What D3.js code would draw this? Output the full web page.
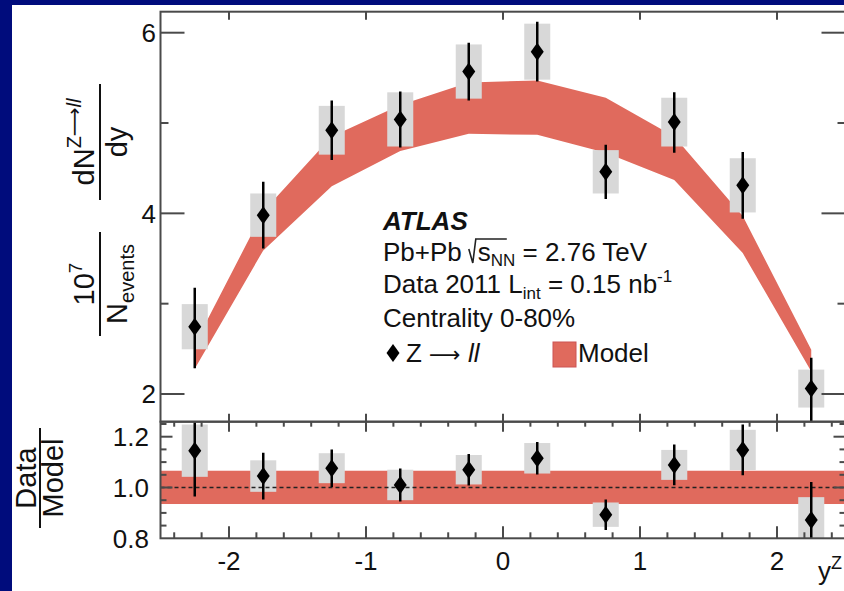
<!DOCTYPE html>
<html>
<head>
<meta charset="utf-8">
<script src="https://cdn.jsdelivr.net/npm/d3@7"></script>
<style>
  html, body { margin: 0; padding: 0; background: #000c7c; }
  svg { display: block; }
  text { font-family: "Liberation Sans", Arial, Helvetica, sans-serif; fill: #111; }
</style>
</head>
<body>
<svg id="chart" width="844" height="591"></svg>
<script>
// Z boson yield vs rapidity, Pb+Pb 2.76 TeV (centrality 0-80%)
const rapidityBins = [-2.25, -1.75, -1.25, -0.75, -0.25, 0.25, 0.75, 1.25, 1.75, 2.25];
const yieldValues  = [2.745, 3.98, 4.92, 5.04, 5.57, 5.79, 4.46, 5.01, 4.31, 2.06];
const yieldStatUp  = [0.43, 0.37, 0.33, 0.31, 0.32, 0.33, 0.30, 0.33, 0.37, 0.34];
const yieldStatDn  = [0.46, 0.37, 0.33, 0.31, 0.32, 0.33, 0.30, 0.34, 0.37, 0.40];
const yieldSyst    = [0.25, 0.24, 0.27, 0.30, 0.30, 0.31, 0.24, 0.27, 0.30, 0.21];
const modelUpper   = [2.55, 4.02, 4.85, 5.20, 5.45, 5.47, 5.28, 4.85, 3.97, 2.49];
const modelLower   = [2.28, 3.59, 4.30, 4.69, 4.88, 4.87, 4.67, 4.37, 3.56, 2.25];
const ratioValues  = [1.145, 1.045, 1.076, 1.01, 1.07, 1.115, 0.893, 1.089, 1.148, 0.872];
const ratioStat    = [0.18, 0.092, 0.074, 0.065, 0.062, 0.064, 0.06, 0.08, 0.10, 0.15];
const ratioSyst    = [0.103, 0.062, 0.059, 0.06, 0.058, 0.06, 0.048, 0.059, 0.079, 0.09];
const ratioBand    = [0.935, 1.066];
const xTicks       = [-2, -1, 0, 1, 2];
const yTicksMain   = [2, 4, 6];
const yMinorMain   = [3, 5];
const yTicksRatio  = [0.8, 1.0, 1.2];

const svg = d3.select("#chart");
const W = 844, H = 591;

svg.append("rect").attr("width", W).attr("height", H).attr("fill", "#000c7c");
svg.append("rect").attr("x", 12).attr("y", 5).attr("width", W - 12).attr("height", H - 5).attr("fill", "#fff");

const left = 160.5, right = 845.5;
const topMain = 11.7, split = 421.7, bottomRatio = 538.3;

const x = d3.scaleLinear().domain([-2.5, 2.5]).range([left, right]);
const yMain = d3.scaleLinear().domain([2, 6]).range([394, 32.7]);
const yRatio = d3.scaleLinear().domain([0.8, 1.0]).range([bottomRatio, 487.5]);

const frameColor = "#4a4a4a";
const bandColor = "#e06a5d";
const boxColor = "#d8d8d8";
const boxHalf = 0.095;
const arrowFont = "'DejaVu Sans', 'Liberation Sans', sans-serif";

const defs = svg.append("defs");
defs.append("clipPath").attr("id", "clipMain").append("rect")
  .attr("x", left).attr("y", topMain).attr("width", right - left).attr("height", split - topMain);
defs.append("clipPath").attr("id", "clipRatio").append("rect")
  .attr("x", left).attr("y", split).attr("width", right - left).attr("height", bottomRatio - split);

const rows = rapidityBins.map((b, i) => ({
  b, v: yieldValues[i], up: yieldStatUp[i], dn: yieldStatDn[i], sy: yieldSyst[i],
  hi: modelUpper[i], lo: modelLower[i],
  r: ratioValues[i], rs: ratioStat[i], ry: ratioSyst[i]
}));

const diamond = (cx, cy) => `M${cx},${cy - 9}L${cx + 6.5},${cy}L${cx},${cy + 9}L${cx - 6.5},${cy}Z`;

// ---------- upper panel ----------
const gMain = svg.append("g").attr("clip-path", "url(#clipMain)");
gMain.append("path").datum(rows)
  .attr("fill", bandColor)
  .attr("d", d3.area().x(d => x(d.b)).y0(d => yMain(d.lo)).y1(d => yMain(d.hi)));

gMain.selectAll("rect.sys").data(rows).join("rect").attr("class", "sys")
  .attr("x", d => x(d.b - boxHalf)).attr("width", d => x(d.b + boxHalf) - x(d.b - boxHalf))
  .attr("y", d => yMain(d.v + d.sy)).attr("height", d => yMain(d.v - d.sy) - yMain(d.v + d.sy))
  .attr("fill", boxColor);

gMain.selectAll("line.err").data(rows).join("line").attr("class", "err")
  .attr("x1", d => x(d.b)).attr("x2", d => x(d.b))
  .attr("y1", d => yMain(d.v + d.up)).attr("y2", d => yMain(d.v - d.dn))
  .attr("stroke", "#000").attr("stroke-width", 2.5);

gMain.selectAll("path.pt").data(rows).join("path").attr("class", "pt")
  .attr("d", d => diamond(x(d.b), yMain(d.v))).attr("fill", "#000");

// ---------- ratio panel ----------
const gRatio = svg.append("g").attr("clip-path", "url(#clipRatio)");
gRatio.append("rect")
  .attr("x", left).attr("width", right - left)
  .attr("y", yRatio(ratioBand[1])).attr("height", yRatio(ratioBand[0]) - yRatio(ratioBand[1]))
  .attr("fill", bandColor);

gRatio.selectAll("rect.sys").data(rows).join("rect").attr("class", "sys")
  .attr("x", d => x(d.b - boxHalf)).attr("width", d => x(d.b + boxHalf) - x(d.b - boxHalf))
  .attr("y", d => yRatio(d.r + d.ry)).attr("height", d => yRatio(d.r - d.ry) - yRatio(d.r + d.ry))
  .attr("fill", boxColor);

gRatio.append("line")
  .attr("x1", left).attr("x2", right).attr("y1", yRatio(1)).attr("y2", yRatio(1))
  .attr("stroke", "#222").attr("stroke-width", 1.6).attr("stroke-dasharray", "4,3");

gRatio.selectAll("line.err").data(rows).join("line").attr("class", "err")
  .attr("x1", d => x(d.b)).attr("x2", d => x(d.b))
  .attr("y1", d => yRatio(d.r + d.rs)).attr("y2", d => yRatio(d.r - d.rs))
  .attr("stroke", "#000").attr("stroke-width", 2.5);

gRatio.selectAll("path.pt").data(rows).join("path").attr("class", "pt")
  .attr("d", d => diamond(x(d.b), yRatio(d.r))).attr("fill", "#000");

// ---------- frames and ticks ----------
const axes = svg.append("g").attr("stroke", frameColor).attr("stroke-width", 2).attr("fill", "none");
axes.append("rect").attr("x", left).attr("y", topMain).attr("width", right - left).attr("height", split - topMain);
axes.append("rect").attr("x", left).attr("y", split).attr("width", right - left).attr("height", bottomRatio - split);

function hTick(g, yv, len) {
  g.append("line").attr("x1", left).attr("x2", left + len).attr("y1", yv).attr("y2", yv);
  g.append("line").attr("x1", right).attr("x2", right - len).attr("y1", yv).attr("y2", yv);
}
function vTick(g, xv, y0, len) {
  g.append("line").attr("x1", xv).attr("x2", xv).attr("y1", y0).attr("y2", y0 + len);
}

yTicksMain.forEach(t => hTick(axes, yMain(t), 24));
yMinorMain.forEach(t => hTick(axes, yMain(t), 8));
xTicks.forEach(t => { vTick(axes, x(t), topMain, 8); vTick(axes, x(t), split, -8); });

// ratio panel ticks: majors every 1, minors every 0.2 in x; every 0.05 in y
d3.range(-2.4, 2.5, 0.2).forEach(t => {
  const major = Math.abs(t - Math.round(t)) < 1e-6;
  vTick(axes, x(t), split, major ? 10 : 5);
  vTick(axes, x(t), bottomRatio, major ? -12 : -6);
});
d3.range(0.85, 1.26, 0.05).forEach(t => {
  const major = yTicksRatio.some(m => Math.abs(m - t) < 1e-6);
  hTick(axes, yRatio(t), major ? 12 : 6);
});

// tick labels
const fs = 26;
yTicksMain.forEach(t => svg.append("text").attr("x", 156).attr("y", yMain(t)).attr("dy", "0.36em")
  .attr("text-anchor", "end").attr("font-size", fs).text(t));
yTicksRatio.forEach(t => svg.append("text").attr("x", 149).attr("y", yRatio(t)).attr("dy", "0.36em")
  .attr("text-anchor", "end").attr("font-size", fs).text(d3.format(".1f")(t)));
xTicks.forEach(t => svg.append("text").attr("x", x(t)).attr("y", 570)
  .attr("text-anchor", "middle").attr("font-size", fs).text(t < 0 ? "-" + Math.abs(t) : t));

// x-axis title y^Z
const xt = svg.append("text").attr("x", 818).attr("y", 580).attr("font-size", fs);
xt.append("tspan").text("y");
xt.append("tspan").attr("dy", -11).attr("font-size", 18).text("Z");

// ---------- axis titles ----------
const tf = 29;
const gT = svg.append("g").attr("transform", "translate(100,212) rotate(-90)");
function frac(g, cx, half) {
  g.append("line").attr("x1", cx - half).attr("x2", cx + half).attr("y1", 0).attr("y2", 0)
    .attr("stroke", "#111").attr("stroke-width", 2);
}
// 10^7 / N_events
frac(gT, -72, 52);
const n1 = gT.append("text").attr("x", -72).attr("y", -6).attr("text-anchor", "middle").attr("font-size", tf);
n1.append("tspan").text("10");
n1.append("tspan").attr("dy", -12).attr("font-size", 19).text("7");
const d1 = gT.append("text").attr("x", -72).attr("y", 27).attr("text-anchor", "middle").attr("font-size", tf);
d1.append("tspan").text("N");
d1.append("tspan").attr("dy", 7).attr("font-size", 20).text("events");
// dN^{Z->ll} / dy
frac(gT, 70, 58);
const n2 = gT.append("text").attr("x", 70).attr("y", -6).attr("text-anchor", "middle").attr("font-size", tf);
n2.append("tspan").text("dN");
n2.append("tspan").attr("dy", -13).attr("font-size", 20).text("Z");
n2.append("tspan").attr("font-size", 20).attr("font-family", arrowFont).text("\u27F6");
n2.append("tspan").attr("font-size", 20).attr("font-style", "italic").text("ll");
gT.append("text").attr("x", 70).attr("y", 27).attr("text-anchor", "middle").attr("font-size", tf).text("dy");

const gR = svg.append("g").attr("transform", "translate(40,478) rotate(-90)");
frac(gR, 0, 50);
gR.append("text").attr("x", 0).attr("y", -4).attr("text-anchor", "middle").attr("font-size", tf).text("Data");
gR.append("text").attr("x", 0).attr("y", 23).attr("text-anchor", "middle").attr("font-size", tf).text("Model");

// ---------- legend block ----------
const lx = 383;
svg.append("text").attr("x", lx).attr("y", 230).attr("font-size", 26)
  .attr("font-weight", "bold").attr("font-style", "italic").text("ATLAS");

const pb = svg.append("text").attr("x", lx).attr("y", 261).attr("font-size", 26).text("Pb+Pb");
const pbW = pb.node().getComputedTextLength();
const sx0 = lx + pbW + 7;
svg.append("path")
  .attr("d", `M${sx0},${261 - 12}L${sx0 + 4},${261 + 2}L${sx0 + 7},${261 - 22}H${sx0 + 38}`)
  .attr("fill", "none").attr("stroke", "#222").attr("stroke-width", 1.6);
const sl = svg.append("text").attr("x", sx0 + 9).attr("y", 261).attr("font-size", 26);
sl.append("tspan").text("s");
sl.append("tspan").attr("dy", 5).attr("font-size", 17).text("NN");
sl.append("tspan").attr("dy", -5).text(" = 2.76 TeV");

const dl = svg.append("text").attr("x", lx).attr("y", 293).attr("font-size", 26);
dl.append("tspan").text("Data 2011 L");
dl.append("tspan").attr("dy", 6).attr("font-size", 17).text("int");
dl.append("tspan").attr("dy", -6).text(" = 0.15 nb");
dl.append("tspan").attr("dy", -11).attr("font-size", 17).text("-1");

svg.append("text").attr("x", lx).attr("y", 327).attr("font-size", 26).text("Centrality 0-80%");

svg.append("path").attr("d", diamond(393, 353)).attr("fill", "#000");
const zl = svg.append("text").attr("x", 406).attr("y", 362).attr("font-size", 26);
zl.append("tspan").text("Z ");
zl.append("tspan").attr("font-family", arrowFont).attr("font-size", 22).text("\u27F6");
zl.append("tspan").text(" ");
zl.append("tspan").attr("font-style", "italic").text("ll");

svg.append("rect").attr("x", 553).attr("y", 342).attr("width", 23).attr("height", 25)
  .attr("fill", bandColor).attr("stroke", "#c55").attr("stroke-width", 1);
svg.append("text").attr("x", 578).attr("y", 362).attr("font-size", 26).text("Model");
</script>
</body>
</html>
